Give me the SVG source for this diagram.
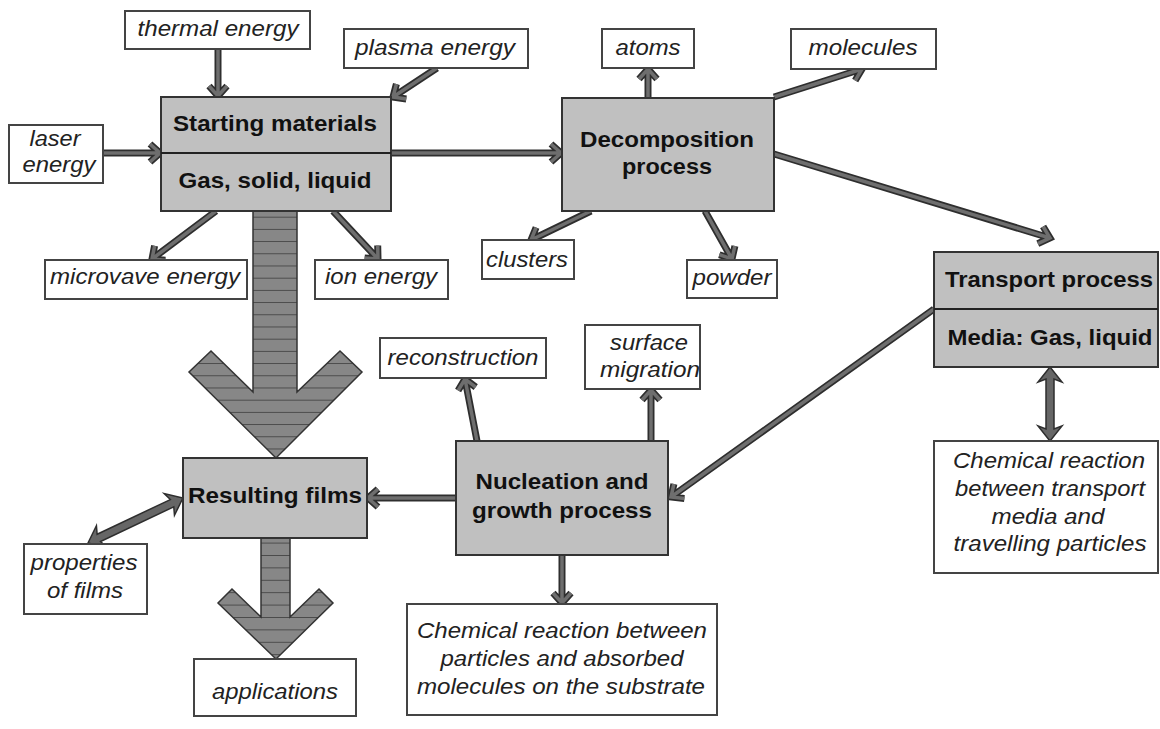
<svg xmlns="http://www.w3.org/2000/svg" xmlns:xlink="http://www.w3.org/1999/xlink" width="1160" height="729" viewBox="0 0 1160 729">
<style>
  .node rect { fill: #c0c0c0; stroke: #333; stroke-width: 2; }
  .node line { stroke: #222; stroke-width: 2; }
  .lbl rect { fill: #fff; stroke: #444; stroke-width: 2; }
  text { font-family: "Liberation Sans", Arial, sans-serif; font-size: 22px; text-anchor: middle; }
  .b { font-weight: bold; fill: #111; }
  .i { font-style: italic; fill: #222; }
  .ao { fill: none; stroke: #2e2e2e; stroke-width: 7; stroke-linejoin: miter; }
  .ai { fill: none; stroke: #6e6e6e; stroke-width: 3.5; stroke-linejoin: miter; }
  .dbl { fill: #666; stroke: #2e2e2e; stroke-width: 1.5; stroke-linejoin: miter; }
  .big { stroke: #333; stroke-width: 1.5; stroke-linejoin: miter; }
</style>
<defs>
  <pattern id="stripe1" patternUnits="userSpaceOnUse" x="0" y="216.7" width="20" height="12.2">
    <rect width="20" height="12.2" fill="#878787"/>
    <line x1="0" y1="0" x2="20" y2="0" stroke="#333" stroke-width="1.4"/>
  </pattern>
  <pattern id="stripe2" patternUnits="userSpaceOnUse" x="0" y="555" width="20" height="12.4">
    <rect width="20" height="12.4" fill="#878787"/>
    <line x1="0" y1="0" x2="20" y2="0" stroke="#333" stroke-width="1.4"/>
  </pattern>
  <g id="conn-paths">
    <path d="M218,49 L218,96 M209,86 L218,96 L227,86"/>
    <path d="M437,68 L393,97 M396.4,84 L393,97 L406.3,99"/>
    <path d="M103,153 L160,153 M150,144 L160,153 L150,162"/>
    <path d="M391,153 L561,153 M551,144 L561,153 L551,162"/>
    <path d="M648,97 L648,69 M639,79 L648,69 L657,79"/>
    <path d="M774,97 L862,69 M855.2,80.6 L862,69 L849.7,63.5"/>
    <path d="M774,154 L1050,238 M1037.8,243.7 L1050,238 L1043.1,226.5"/>
    <path d="M591,211 L531,240 M536.1,227.5 L531,240 L543.9,243.8"/>
    <path d="M705,211 L732,259 M719.3,254.7 L732,259 L734.9,245.9"/>
    <path d="M216,211 L152,259 M154.6,245.8 L152,259 L165.4,260.2"/>
    <path d="M333,211 L378,259 M364.6,257.9 L378,259 L377.7,245.5"/>
    <path d="M456,498 L368,498 M378,489 L368,498 L378,507"/>
    <path d="M477,441 L465,379 M475.7,387.1 L465,379 L458.1,390.5"/>
    <path d="M651,441 L651,390 M642,400 L651,390 L660,400"/>
    <path d="M934,309 L671,497 M673.9,483.9 L671,497 L684.4,498.5"/>
    <path d="M562,555 L562,603 M553,593 L562,603 L571,593"/>
  </g>
</defs>

<g id="connectors">
  <use href="#conn-paths" class="ao"/>
  <use href="#conn-paths" class="ai"/>
  <polygon class="dbl" points="1050,367 1062,382 1054,379 1054,429 1062,426 1050,441 1038,426 1046,429 1046,379 1038,382"/>
  <polygon class="dbl" transform="translate(88,543) rotate(-25.35)" points="0,0 15,-12 12,-4 93,-4 90,-12 105,0 90,12 93,4 12,4 15,12"/>
  <polygon class="big" fill="url(#stripe1)" points="253,211 297,211 297,392 340,351 362,372 276,458 189,372 211,351 253,392"/>
  <polygon class="big" fill="url(#stripe2)" points="261,538 290,538 290,617 319,589 333,603 276,659 218,603 232,589 261,617"/>
</g>

<g id="thermal" class="lbl">
  <rect x="125" y="11" width="185" height="38"/>
  <text class="i" x="218" y="36" textLength="161" lengthAdjust="spacingAndGlyphs">thermal energy</text>
</g>
<g id="plasma" class="lbl">
  <rect x="344" y="29" width="184" height="39"/>
  <text class="i" x="435" y="55" textLength="160" lengthAdjust="spacingAndGlyphs">plasma energy</text>
</g>
<g id="laser" class="lbl">
  <rect x="9" y="125" width="94" height="58"/>
  <text class="i" x="55" y="146" textLength="51" lengthAdjust="spacingAndGlyphs">laser</text>
  <text class="i" x="59" y="172" textLength="73" lengthAdjust="spacingAndGlyphs">energy</text>
</g>
<g id="starting" class="node">
  <rect x="161" y="97" width="230" height="114"/>
  <line x1="161" y1="153" x2="391" y2="153"/>
  <text class="b" x="275" y="131" textLength="204" lengthAdjust="spacingAndGlyphs">Starting materials</text>
  <text class="b" x="275" y="188" textLength="193" lengthAdjust="spacingAndGlyphs">Gas, solid, liquid</text>
</g>
<g id="atoms" class="lbl">
  <rect x="602" y="29" width="92" height="39"/>
  <text class="i" x="648" y="55" textLength="65" lengthAdjust="spacingAndGlyphs">atoms</text>
</g>
<g id="molecules" class="lbl">
  <rect x="791" y="29" width="145" height="40"/>
  <text class="i" x="863" y="55" textLength="109" lengthAdjust="spacingAndGlyphs">molecules</text>
</g>
<g id="decomposition" class="node">
  <rect x="562" y="98" width="212" height="113"/>
  <text class="b" x="667" y="147" textLength="174" lengthAdjust="spacingAndGlyphs">Decomposition</text>
  <text class="b" x="667" y="174" textLength="90" lengthAdjust="spacingAndGlyphs">process</text>
</g>
<g id="microvave" class="lbl">
  <rect x="45" y="260" width="202" height="39"/>
  <text class="i" x="145" y="284" textLength="190" lengthAdjust="spacingAndGlyphs">microvave energy</text>
</g>
<g id="ion" class="lbl">
  <rect x="315" y="260" width="133" height="39"/>
  <text class="i" x="381" y="284" textLength="112" lengthAdjust="spacingAndGlyphs">ion energy</text>
</g>
<g id="clusters" class="lbl">
  <rect x="482" y="240" width="92" height="39"/>
  <text class="i" x="527" y="267" textLength="82" lengthAdjust="spacingAndGlyphs">clusters</text>
</g>
<g id="powder" class="lbl">
  <rect x="687" y="260" width="90" height="38"/>
  <text class="i" x="732" y="285" textLength="79" lengthAdjust="spacingAndGlyphs">powder</text>
</g>
<g id="transport" class="node">
  <rect x="934" y="252" width="224" height="115"/>
  <line x1="934" y1="309" x2="1158" y2="309"/>
  <text class="b" x="1049" y="287" textLength="208" lengthAdjust="spacingAndGlyphs">Transport process</text>
  <text class="b" x="1050" y="345" textLength="205" lengthAdjust="spacingAndGlyphs">Media: Gas, liquid</text>
</g>
<g id="chem-transport" class="lbl">
  <rect x="934" y="441" width="224" height="132"/>
  <text class="i" x="1049" y="468" textLength="192" lengthAdjust="spacingAndGlyphs">Chemical reaction</text>
  <text class="i" x="1050" y="496" textLength="190" lengthAdjust="spacingAndGlyphs">between transport</text>
  <text class="i" x="1048" y="524" textLength="113" lengthAdjust="spacingAndGlyphs">media and</text>
  <text class="i" x="1050" y="551" textLength="193" lengthAdjust="spacingAndGlyphs">travelling particles</text>
</g>
<g id="reconstruction" class="lbl">
  <rect x="380" y="338" width="166" height="40"/>
  <text class="i" x="463" y="365" textLength="151" lengthAdjust="spacingAndGlyphs">reconstruction</text>
</g>
<g id="surface" class="lbl">
  <rect x="585" y="325" width="115" height="64"/>
  <text class="i" x="649" y="350" textLength="78" lengthAdjust="spacingAndGlyphs">surface</text>
  <text class="i" x="650" y="377" textLength="100" lengthAdjust="spacingAndGlyphs">migration</text>
</g>
<g id="resulting" class="node">
  <rect x="183" y="458" width="184" height="80"/>
  <text class="b" x="275" y="503" textLength="174" lengthAdjust="spacingAndGlyphs">Resulting films</text>
</g>
<g id="nucleation" class="node">
  <rect x="456" y="441" width="212" height="114"/>
  <text class="b" x="562" y="489" textLength="173" lengthAdjust="spacingAndGlyphs">Nucleation and</text>
  <text class="b" x="562" y="518" textLength="180" lengthAdjust="spacingAndGlyphs">growth process</text>
</g>
<g id="properties" class="lbl">
  <rect x="24" y="544" width="123" height="70"/>
  <text class="i" x="84" y="570" textLength="107" lengthAdjust="spacingAndGlyphs">properties</text>
  <text class="i" x="85" y="598" textLength="76" lengthAdjust="spacingAndGlyphs">of films</text>
</g>
<g id="applications" class="lbl">
  <rect x="194" y="659" width="162" height="57"/>
  <text class="i" x="275" y="699" textLength="126" lengthAdjust="spacingAndGlyphs">applications</text>
</g>
<g id="chem-substrate" class="lbl">
  <rect x="407" y="604" width="310" height="111"/>
  <text class="i" x="562" y="638" textLength="290" lengthAdjust="spacingAndGlyphs">Chemical reaction between</text>
  <text class="i" x="562" y="666" textLength="243" lengthAdjust="spacingAndGlyphs">particles and absorbed</text>
  <text class="i" x="561" y="694" textLength="288" lengthAdjust="spacingAndGlyphs">molecules on the substrate</text>
</g>
</svg>
